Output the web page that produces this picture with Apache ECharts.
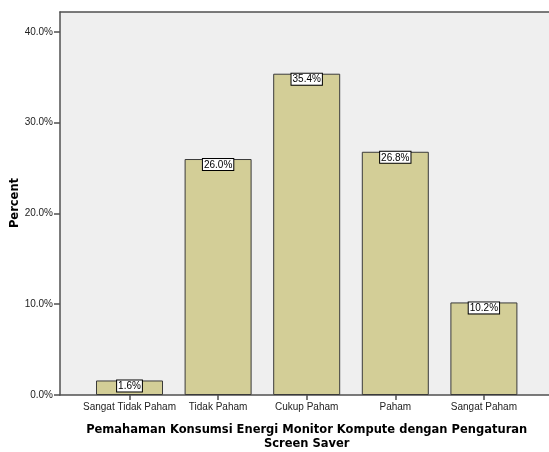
<!DOCTYPE html>
<html><head><meta charset="utf-8">
<script src="https://cdn.jsdelivr.net/npm/echarts@6/dist/echarts.min.js"></script>
<style>html,body{margin:0;padding:0;background:#fff}#c{width:549px;height:452px}</style>
</head><body><div id="c"></div>
<script>
const categories = ['Sangat Tidak Paham', 'Tidak Paham', 'Cukup Paham', 'Paham', 'Sangat Paham'];
const percentValues = [1.6, 26.0, 35.4, 26.8, 10.2];
const yTicks = [0, 10, 20, 30, 40];
const xTitle = 'Pemahaman Konsumsi Energi Monitor Kompute dengan Pengaturan\nScreen Saver';
const yTitle = 'Percent';

const FONT = 'Liberation Sans, Arial, sans-serif';
const TFONT = 'DejaVu Sans, Verdana, sans-serif';
const YMAX = 42.2;
const LINE = {color: '#505050', width: 1.5};
const chart = echarts.init(document.getElementById('c'), null, {renderer: 'canvas'});
chart.setOption({
  animation: false,
  backgroundColor: '#ffffff',
  grid: [
    {left: 60, top: 12, right: 0, bottom: 57, show: true, backgroundColor: '#efefef', borderWidth: 0, containLabel: false},
    {left: 85.2, top: 12, right: 20.8, bottom: 57, containLabel: false}
  ],
  xAxis: [
    {gridIndex: 0, type: 'value', min: 0, max: 1, position: 'bottom',
      axisLine: {show: true, onZero: false, lineStyle: LINE}, axisTick: {show: false}, axisLabel: {show: false}, splitLine: {show: false}},
    {gridIndex: 1, type: 'category', data: categories, boundaryGap: true,
      axisLine: {show: false},
      axisTick: {show: true, alignWithLabel: true, length: 5, lineStyle: LINE},
      axisLabel: {color: '#222', fontFamily: FONT, fontSize: 10, margin: 7, interval: 0},
      splitLine: {show: false}},
    {gridIndex: 0, type: 'value', min: 0, max: 1, position: 'top',
      axisLine: {show: true, onZero: false, lineStyle: LINE}, axisTick: {show: false}, axisLabel: {show: false}, splitLine: {show: false}}
  ],
  yAxis: [
    {gridIndex: 0, type: 'value', min: 0, max: YMAX, interval: 10,
      axisLine: {show: true, onZero: false, lineStyle: LINE},
      axisTick: {show: true, length: 6, lineStyle: LINE},
      axisLabel: {color: '#222', fontFamily: FONT, fontSize: 10, margin: 7, showMaxLabel: false,
        formatter: v => yTicks.includes(v) ? v.toFixed(1) + '%' : ''},
      splitLine: {show: false}},
    {gridIndex: 1, type: 'value', min: 0, max: YMAX, show: false, splitLine: {show: false}}
  ],
  series: [{
    type: 'bar', xAxisIndex: 1, yAxisIndex: 1,
    data: percentValues, barWidth: 67,
    itemStyle: {color: '#d3ce97', borderColor: '#3a3a3a', borderWidth: 1},
    label: {show: true, position: 'insideTop', distance: 0,
      formatter: p => p.value.toFixed(1) + '%',
      color: '#000', fontFamily: FONT, fontSize: 10,
      backgroundColor: '#ffffff', borderColor: '#000', borderWidth: 1, padding: [1, 1, 0, 1]}
  }],
  graphic: [
    {type: 'text', x: 306.7, y: 423, style: {text: xTitle, font: 'bold 11.5px ' + TFONT, fill: '#000', align: 'center', verticalAlign: 'top', lineHeight: 14}},
    {type: 'text', x: 15, y: 203, rotation: Math.PI / 2, style: {text: yTitle, font: 'bold 11.5px ' + TFONT, fill: '#000', align: 'center', verticalAlign: 'middle'}}
  ]
});
</script></body></html>
